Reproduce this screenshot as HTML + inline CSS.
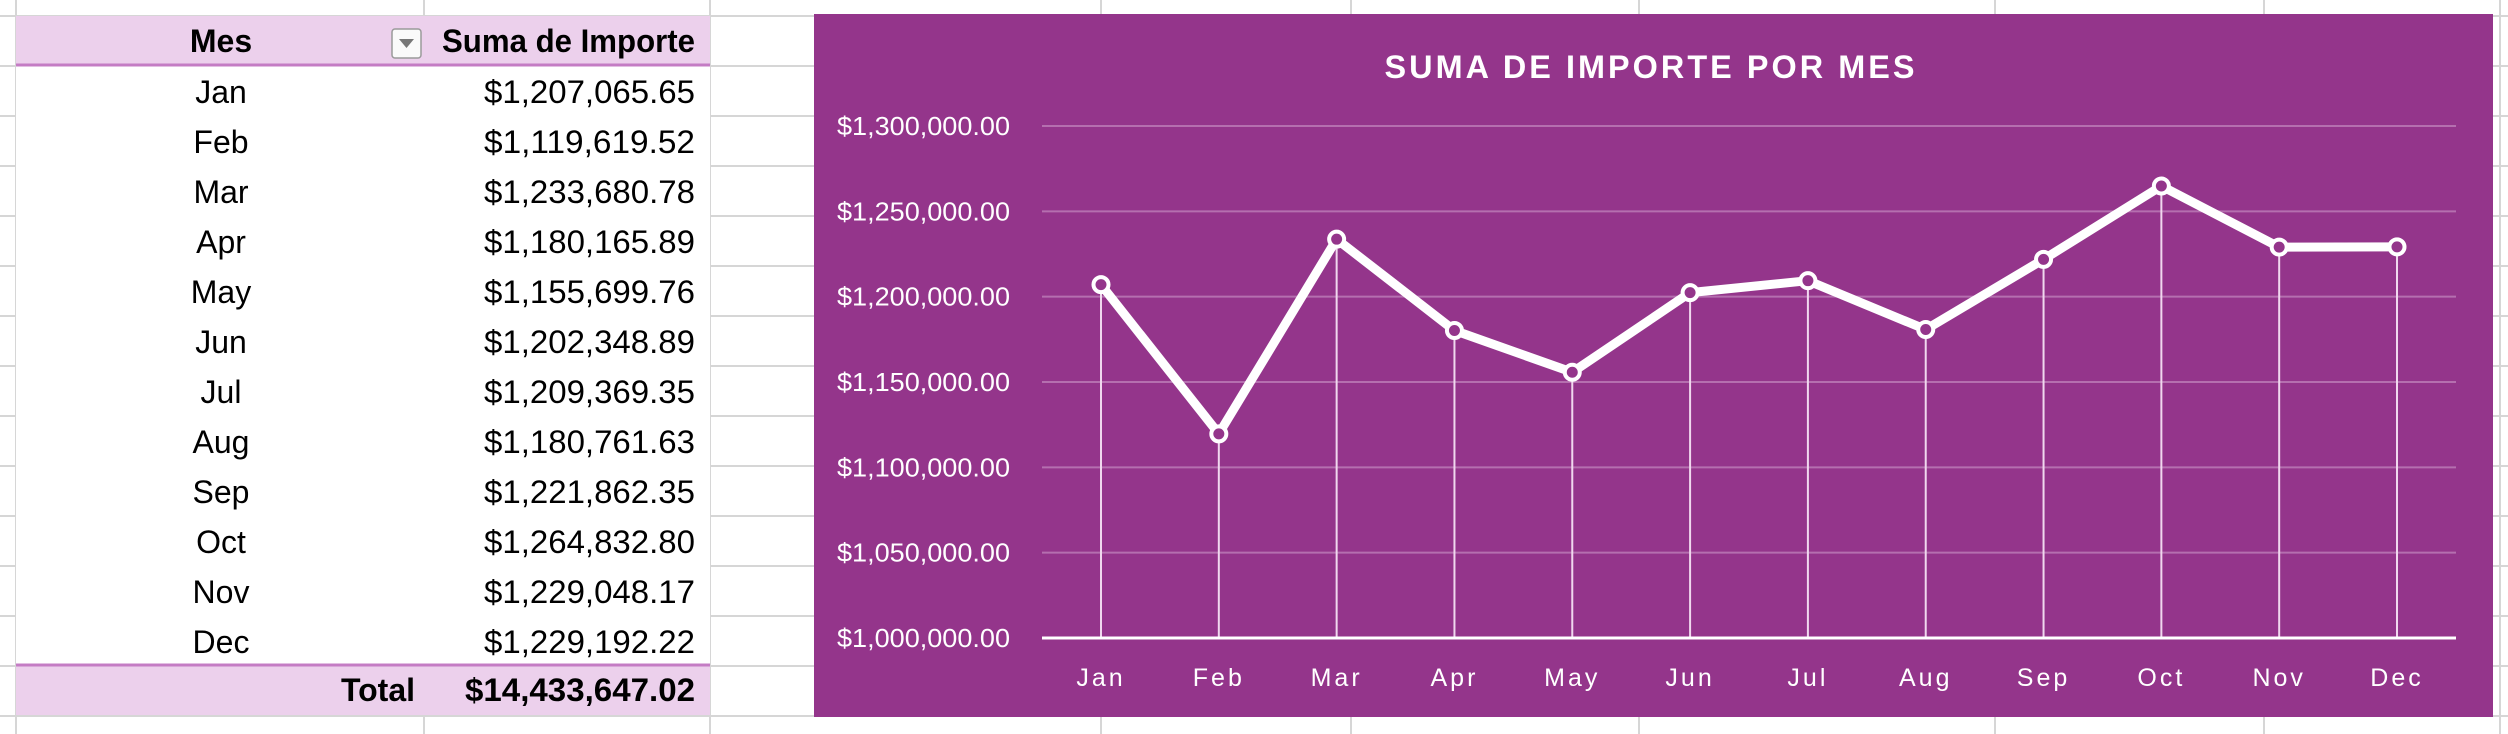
<!DOCTYPE html>
<html><head><meta charset="utf-8">
<style>
html,body{margin:0;padding:0;background:#fff;}
body{width:2508px;height:734px;overflow:hidden;position:relative;font-family:"Liberation Sans Narrow","Liberation Sans",sans-serif;}
svg{position:absolute;left:0;top:0;}
</style></head><body>
<svg id="page" width="2508" height="734" xmlns="http://www.w3.org/2000/svg">
  <g id="sheetgrid"></g>
  <g id="pivot">
    <rect x="16" y="16" width="694" height="50" fill="#ECD0EC"/>
    <line x1="16" y1="65" x2="710" y2="65" stroke="#C47CC4" stroke-width="3"/>
    <text x="221" y="52" text-anchor="middle" font-size="32" font-weight="bold" fill="#000">Mes</text>
    <g>
      <rect x="392" y="29" width="29" height="29" rx="3" fill="#fafafa" stroke="#9a9a9a" stroke-width="1.5"/>
      <path d="M399 39 L414 39 L406.5 48 Z" fill="#777"/>
    </g>
    <text x="695" y="52" text-anchor="end" font-size="32" font-weight="bold" fill="#000" textLength="253" lengthAdjust="spacingAndGlyphs">Suma de Importe</text>
    <g id="rows"></g>
    <rect x="16" y="665" width="694" height="50" fill="#ECD0EC"/>
    <line x1="16" y1="665" x2="710" y2="665" stroke="#C47CC4" stroke-width="3"/>
    <text x="415" y="701" text-anchor="end" font-size="32" font-weight="bold">Total</text>
    <text x="695" y="701" text-anchor="end" font-size="32" font-weight="bold" textLength="230" lengthAdjust="spacingAndGlyphs">$14,433,647.02</text>
  </g>
  <g id="chart">
    <rect x="814" y="14" width="1679" height="703" fill="#94358B"/>
    <text x="1651" y="78" text-anchor="middle" font-family="Liberation Sans, sans-serif" font-size="32" font-weight="bold" letter-spacing="3" fill="#fff" textLength="533" lengthAdjust="spacingAndGlyphs">SUMA DE IMPORTE POR MES</text>
    <g id="ygrid"></g>
    <g id="drops"></g>
    <g id="xaxis"></g>
    <g id="series"></g>
  </g>
</svg>
<script>
const months = ["Jan","Feb","Mar","Apr","May","Jun","Jul","Aug","Sep","Oct","Nov","Dec"];
const values = [1207065.65,1119619.52,1233680.78,1180165.89,1155699.76,1202348.89,1209369.35,1180761.63,1221862.35,1264832.80,1229048.17,1229192.22];
const valueLabels = ["$1,207,065.65","$1,119,619.52","$1,233,680.78","$1,180,165.89","$1,155,699.76","$1,202,348.89","$1,209,369.35","$1,180,761.63","$1,221,862.35","$1,264,832.80","$1,229,048.17","$1,229,192.22"];
const yTicks = [1000000,1050000,1100000,1150000,1200000,1250000,1300000];
const yTickLabels = ["$1,000,000.00","$1,050,000.00","$1,100,000.00","$1,150,000.00","$1,200,000.00","$1,250,000.00","$1,300,000.00"];

const NS="http://www.w3.org/2000/svg";
function mk(tag,attrs,parent){const e=document.createElementNS(NS,tag);for(const k in attrs)e.setAttribute(k,attrs[k]);parent.appendChild(e);return e;}

const sg=document.getElementById('sheetgrid');
const colX=[16,424,710,1101,1351,1639,1995,2264,2500];
colX.forEach(x=>mk('line',{x1:x,y1:0,x2:x,y2:734,stroke:'#d6d6d6','stroke-width':2},sg));
for(let y=16;y<734;y+=50)mk('line',{x1:0,y1:y,x2:2508,y2:y,stroke:'#d6d6d6','stroke-width':2},sg);
mk('rect',{x:16,y:66,width:694,height:599,fill:'#fff'},sg);

const rows=document.getElementById('rows');
months.forEach((m,i)=>{
  const y=66+i*50;
  const t1=mk('text',{x:221,y:y+37,'text-anchor':'middle','font-size':32,fill:'#000'},rows);
  t1.textContent=m;
  
  
  const t2=mk('text',{x:695,y:y+37,'text-anchor':'end','font-size':32,fill:'#000',textLength:211,lengthAdjust:'spacingAndGlyphs'},rows);
  t2.textContent=valueLabels[i];
  
  
});

const plotL=1042,plotR=2456,yTop=126,yBot=638,yMin=1000000,yMax=1300000;
const yS=v=>yBot-(v-yMin)/(yMax-yMin)*(yBot-yTop);
const step=(2397-1101)/11;
const xS=i=>1101+i*step;

const yg=document.getElementById('ygrid');
yTicks.forEach((v,i)=>{
  const y=yS(v);
  if(i>0){
    const l=mk('line',{x1:plotL,y1:y,x2:plotR,y2:y,stroke:'#B56FAF','stroke-width':2},yg);
    
    
  }
  const t=mk('text',{x:1010,y:y+9,'text-anchor':'end','font-size':26,fill:'#fff',textLength:173,lengthAdjust:'spacingAndGlyphs'},yg);
  t.textContent=yTickLabels[i];
  
  
});

const dr=document.getElementById('drops');
values.forEach((v,i)=>{
  const l=mk('line',{x1:xS(i),y1:yS(v),x2:xS(i),y2:yBot,stroke:'#F0D8EE','stroke-width':2},dr);
  
  
});

const xa=document.getElementById('xaxis');
const ax=mk('line',{x1:plotL,y1:yBot,x2:plotR,y2:yBot,stroke:'#fff','stroke-width':3},xa);


months.forEach((m,i)=>{
  const t=mk('text',{x:xS(i),y:686,'text-anchor':'middle','font-family':'Liberation Sans, sans-serif','font-size':25,'letter-spacing':3,fill:'#fff'},xa);
  t.textContent=m;
  
  
});

const se=document.getElementById('series');
const pts=values.map((v,i)=>xS(i)+','+yS(v)).join(' ');
const pl=mk('polyline',{points:pts,fill:'none',stroke:'#fff','stroke-width':9,'stroke-linejoin':'round'},se);


values.forEach((v,i)=>{
  const c=mk('circle',{cx:xS(i),cy:yS(v),r:7.5,fill:'#94358B',stroke:'#fff','stroke-width':4},se);
  
  
});
</script>
</body></html>
